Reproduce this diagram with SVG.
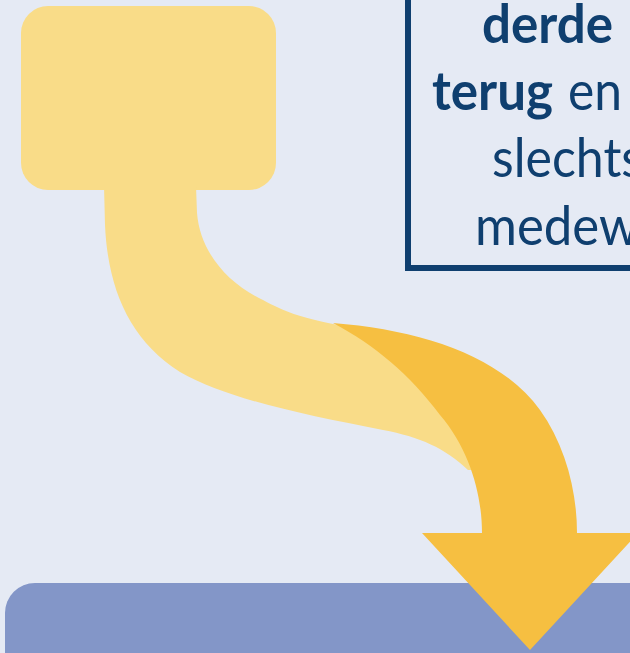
<svg xmlns="http://www.w3.org/2000/svg" width="630" height="653" viewBox="0 0 630 653">
<style>
.t{font-family:Lato,"Liberation Sans",sans-serif;font-size:54px;fill:#0F3F6F}
.b{font-weight:bold}
</style>
<rect width="630" height="653" fill="#E5EAF4"/>
<g id="bottom-box"><rect x="5" y="583" width="700" height="200" rx="30" fill="#8396C8"/></g>
<g id="top-box"><rect x="21" y="6" width="255" height="184" rx="27" fill="#F9DC88"/></g>
<g id="connectors">
<path d="M104,186 L105,225 C108,290 130,340 180,372 C225,398 300,414 383,430 C420,437 445,448 468,470 L490,470 L420,340 L333,324 C300,317 285,312 263,300 C225,282 200,250 197,213 L196,186 Z" fill="#F9DC88"/>
<path d="M333,323 C420,330 500,355 540,410 C565,445 577,490 577,533 L638,533 L530,650 L422,533 L482,533 C482,495 470,450 440,415 C410,375 375,345 333,323 Z" fill="#F6BF41"/>
</g>
<g id="text-box">
<rect x="408" y="-100" width="300" height="368" fill="none" stroke="#0F3F6F" stroke-width="6"/>
<text class="t b" x="482" y="43" textLength="131" lengthAdjust="spacingAndGlyphs">derde</text>
<text class="t b" x="432" y="110" textLength="121" lengthAdjust="spacingAndGlyphs">terug</text>
<text class="t" x="568" y="110" textLength="54" lengthAdjust="spacingAndGlyphs">en</text>
<text class="t" x="492" y="177" textLength="151" lengthAdjust="spacingAndGlyphs">slechts</text>
<text class="t" x="475" y="245" textLength="164" lengthAdjust="spacingAndGlyphs">medew</text>
</g>
</svg>
